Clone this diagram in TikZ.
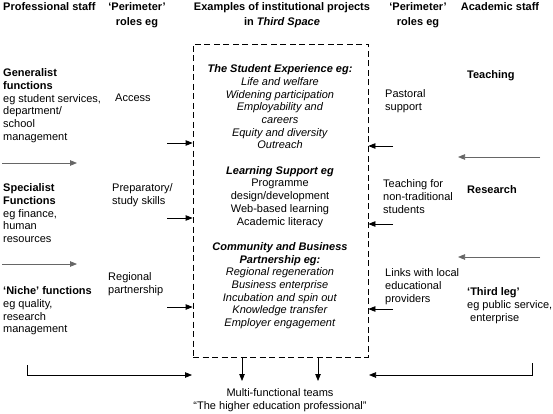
\documentclass[tikz,border=0pt]{standalone}
\usepackage{fontspec}
\setmainfont{Liberation Sans}
\usetikzlibrary{arrows.meta}
\begin{document}
\begin{tikzpicture}[x=1pt,y=-1pt,
  every node/.style={font=\fontsize{11}{12.7}\selectfont, inner sep=0pt},
  lbl/.style={anchor=north west, align=left},
  hdr/.style={anchor=north, align=center, font=\fontsize{11}{15}\selectfont\bfseries},
  arr/.style={-{Triangle[length=7pt,width=5.5pt]}, line width=0.75pt},
  garr/.style={arr, draw=black!60, fill=black!75}]
\useasboundingbox (0,0) rectangle (553,414);

% headers
\node[hdr, anchor=north west] (hProf) at (3,2.5) {Professional staff};
\node[hdr] (hPerL) at (137,2.5) {‘Perimeter’\\roles eg};
\node[hdr] (hEx) at (282,2.5) {Examples of institutional projects\\in \textit{Third Space}};
\node[hdr] (hPerR) at (418,2.5) {‘Perimeter’\\roles eg};
\node[hdr] (hAcad) at (500,2.5) {Academic staff};

% dashed box
\node[draw, dash pattern=on 6pt off 3.5pt, line width=0.75pt, minimum width=175pt, minimum height=313pt] (box) at (280.5,200.5) {};
\node[anchor=north, align=center] (boxtext) at (280,64.5) {%
\textbf{\textit{The Student Experience eg:}}\\
\textit{Life and welfare}\\
\textit{Widening participation}\\
\textit{Employability and}\\
\textit{careers}\\
\textit{Equity and diversity}\\
\textit{Outreach}\\[12.7pt]
\textbf{\textit{Learning Support eg}}\\
Programme\\
design/development\\
Web-based learning\\
Academic literacy\\[12.7pt]
\textbf{\textit{Community and Business}}\\
\textbf{\textit{Partnership eg:}}\\
\textit{Regional regeneration}\\
\textit{Business enterprise}\\
\textit{Incubation and spin out}\\
\textit{Knowledge transfer}\\
\textit{Employer engagement}};

% left column
\node[lbl] (gen) at (3,68.5) {\textbf{Generalist}\\\textbf{functions}\\eg student services,\\department/\\school\\management};
\node[lbl] (access) at (115,93.5) {Access};
\node[lbl] (spec) at (3,183.5) {\textbf{Specialist}\\\textbf{Functions}\\eg finance,\\human\\resources};
\node[lbl] (prep) at (112,183.5) {Preparatory/\\study skills};
\node[lbl] (niche) at (3,286.5) {\textbf{‘Niche’ functions}\\eg quality,\\research\\management};
\node[lbl] (regional) at (108,272.5) {Regional\\partnership};

% right column
\node[lbl] (teaching) at (467,70.5) {\textbf{Teaching}};
\node[lbl] (pastoral) at (385,89.5) {Pastoral\\support};
\node[lbl] (teachfor) at (383,179.5) {Teaching for\\non-traditional\\students};
\node[lbl] (research) at (467,185.5) {\textbf{Research}};
\node[lbl] (links) at (385,268.5) {Links with local\\educational\\providers};
\node[lbl] (thirdleg) at (467,287.5) {\textbf{‘Third leg’}\\eg public service,\\\hspace*{3pt}enterprise};

% bottom text
\node[anchor=north, align=center] (multi) at (280,388.5) {Multi-functional teams\\“The higher education professional”};

% coordinates
\coordinate (l1) at (167,143);
\coordinate (l2) at (167,218);
\coordinate (l3) at (167,307);
\coordinate (r1) at (393,146);
\coordinate (r2) at (393,224);
\coordinate (r3) at (393,309);
\coordinate (gl1s) at (2,163);
\coordinate (gl1e) at (77,163);
\coordinate (gl2s) at (2,264);
\coordinate (gl2e) at (77,264);
\coordinate (gr1s) at (540,157);
\coordinate (gr1e) at (458,157);
\coordinate (gr2s) at (540,257);
\coordinate (gr2e) at (458,257);
\coordinate (bl) at (27,365);
\coordinate (blend) at (192,375);
\coordinate (br) at (532,363);
\coordinate (brend) at (369,375);
\coordinate (d1) at (242,381);
\coordinate (d2) at (318,381);

% short arrows into box
\draw[arr] (l1) -- (l1 -| box.west);
\draw[arr] (l2) -- (l2 -| box.west);
\draw[arr] (l3) -- (l3 -| box.west);
\draw[arr] (r1) -- (r1 -| box.east);
\draw[arr] (r2) -- (r2 -| box.east);
\draw[arr] (r3) -- (r3 -| box.east);

% long gray arrows
\draw[garr] (gl1s) -- (gl1e);
\draw[garr] (gl2s) -- (gl2e);
\draw[garr] (gr1s) -- (gr1e);
\draw[garr] (gr2s) -- (gr2e);

% bottom
\draw[arr] (bl) |- (blend);
\draw[arr] (br) |- (brend);
\draw[arr] (d1 |- box.south) -- (d1);
\draw[arr] (d2 |- box.south) -- (d2);
\end{tikzpicture}
\end{document}
